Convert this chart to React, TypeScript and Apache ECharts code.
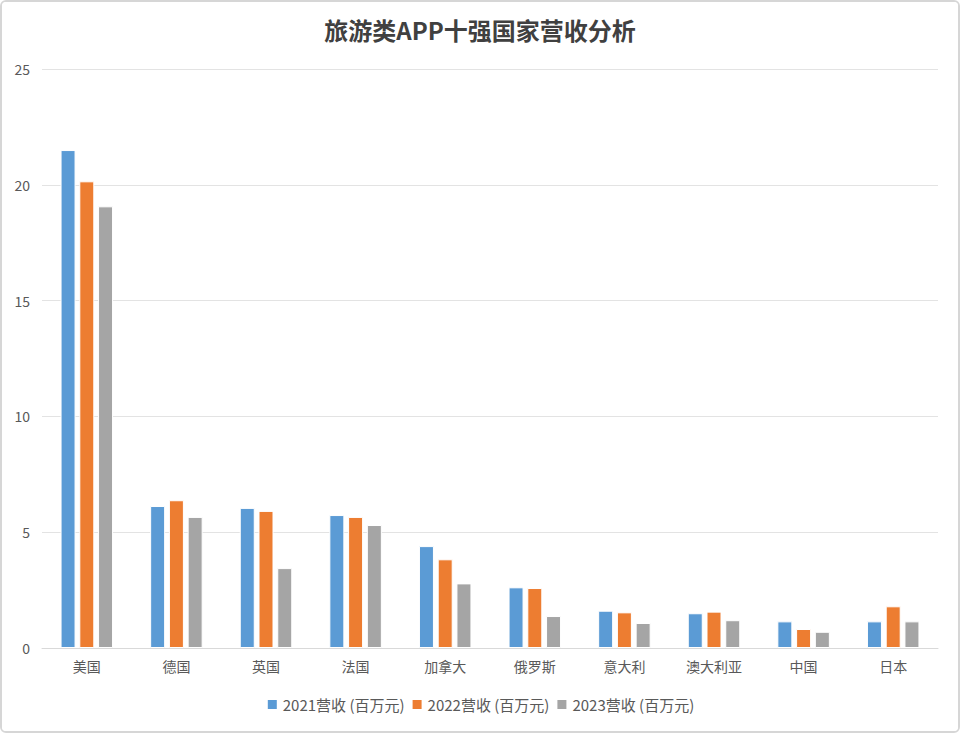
import React, { useEffect, useRef } from "react";
import * as echarts from "echarts";

const categories = ["美国", "德国", "英国", "法国", "加拿大", "俄罗斯", "意大利", "澳大利亚", "中国", "日本"];
const rev2021 = [21.5, 6.13, 6.05, 5.74, 4.4, 2.62, 1.61, 1.5, 1.15, 1.15];
const rev2022 = [20.15, 6.38, 5.92, 5.66, 3.83, 2.59, 1.54, 1.57, 0.82, 1.8];
const rev2023 = [19.07, 5.66, 3.45, 5.31, 2.79, 1.38, 1.08, 1.2, 0.7, 1.15];
const seriesNames = ["2021营收 (百万元)", "2022营收 (百万元)", "2023营收 (百万元)"];
const colors = ["#5b9bd5", "#ed7d31", "#a5a5a5"];

const FONT = "'Noto Sans CJK SC', 'Noto Sans', sans-serif";

export default function App() {
  const ref = useRef<HTMLDivElement>(null);
  useEffect(() => {
    if (!ref.current) return;
    const chart = echarts.init(ref.current, null, { renderer: "svg" });
    const mk = (name: string, data: number[], color: string) => ({
      name,
      type: "bar",
      data,
      barWidth: 15,
      barGap: "25%",
      itemStyle: { color, borderColor: "#ffffff", borderWidth: 1 },
    });
    chart.setOption({
      animation: false,
      backgroundColor: "#ffffff",
      textStyle: { fontFamily: FONT },
      title: {
        text: "旅游类APP十强国家营收分析",
        left: "center",
        top: 12,
        textStyle: { fontSize: 24, fontWeight: "bold", color: "#404040", fontFamily: FONT },
      },
      legend: {
        data: seriesNames,
        bottom: 16,
        left: "center",
        itemWidth: 11,
        itemHeight: 11,
        itemGap: 6,
        icon: "rect",
        textStyle: { fontSize: 15, color: "#595959", fontFamily: FONT },
      },
      grid: { left: 42, right: 22, top: 69, bottom: 85, containLabel: false },
      xAxis: {
        type: "category",
        data: categories,
        axisLine: { lineStyle: { color: "#d9d9d9", width: 1 } },
        axisTick: { show: false },
        axisLabel: { color: "#595959", fontSize: 14, margin: 11, fontFamily: FONT },
      },
      yAxis: {
        type: "value",
        min: 0,
        max: 25,
        interval: 5,
        axisLine: { show: false },
        axisTick: { show: false },
        splitLine: { lineStyle: { color: "#e3e3e3", width: 1 } },
        axisLabel: { color: "#595959", fontSize: 14, margin: 12, fontFamily: FONT },
      },
      series: [
        mk(seriesNames[0], rev2021, colors[0]),
        mk(seriesNames[1], rev2022, colors[1]),
        mk(seriesNames[2], rev2023, colors[2]),
      ],
    });
    return () => chart.dispose();
  }, []);
  return (
    <div
      style={{
        position: "fixed",
        left: 0,
        top: 0,
        width: 960,
        height: 733,
        boxSizing: "border-box",
        border: "2px solid #d6d6d6",
        borderRadius: 6,
        overflow: "hidden",
        background: "#fff",
      }}
    >
      <div ref={ref} style={{ position: "absolute", left: -2, top: -2, width: 960, height: 733 }} />
    </div>
  );
}
